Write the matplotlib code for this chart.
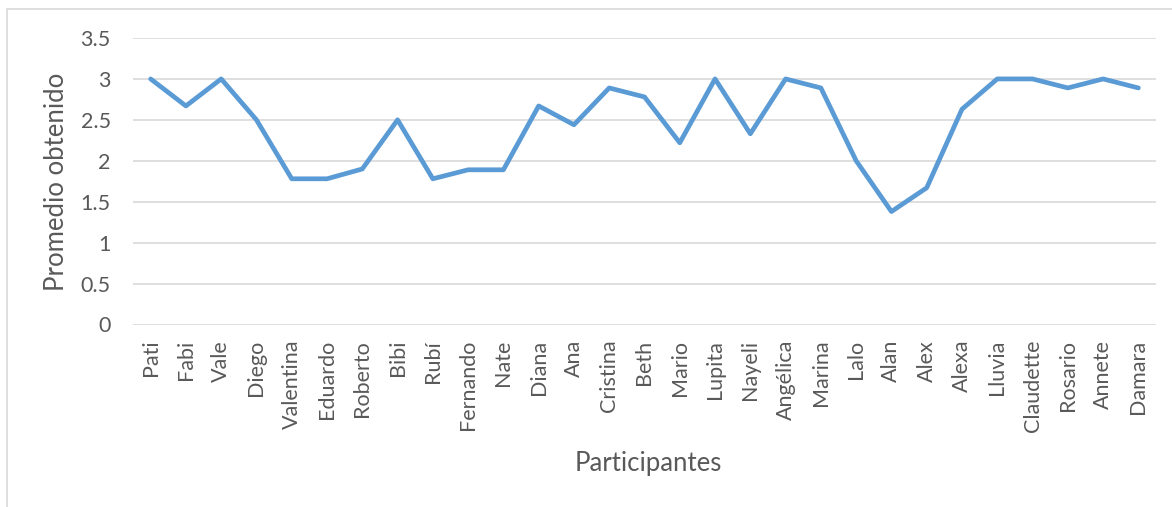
import matplotlib
matplotlib.use("Agg")
import matplotlib.pyplot as plt
from matplotlib.patches import Rectangle

participantes = ["Pati", "Fabi", "Vale", "Diego", "Valentina", "Eduardo", "Roberto", "Bibi",
                 "Rubí", "Fernando", "Nate", "Diana", "Ana", "Cristina", "Beth", "Mario",
                 "Lupita", "Nayeli", "Angélica", "Marina", "Lalo", "Alan", "Alex", "Alexa",
                 "Lluvia", "Claudette", "Rosario", "Annete", "Damara"]
promedio = [3.0, 2.67, 3.0, 2.5, 1.78, 1.78, 1.9, 2.5,
            1.78, 1.89, 1.89, 2.67, 2.44, 2.89, 2.78, 2.22,
            3.0, 2.33, 3.0, 2.89, 2.0, 1.38, 1.67, 2.63,
            3.0, 3.0, 2.89, 3.0, 2.89]
yticks = [0, 0.5, 1, 1.5, 2, 2.5, 3, 3.5]
ytick_labels = ["0", "0.5", "1", "1.5", "2", "2.5", "3", "3.5"]

plt.rcParams['font.family'] = ['Lato', 'DejaVu Sans']
text_color = "#595959"

fig = plt.figure(figsize=(11.72, 5.07), dpi=100)
ax = fig.add_axes([133/1172, 1 - 324.5/507, (1156-133)/1172, (324.5-38)/507])

x = list(range(len(participantes)))
ax.plot(x, promedio, color="#5B9BD5", linewidth=3.4,
        solid_joinstyle='round', solid_capstyle='round', zorder=3)

ax.set_xlim(-0.5, len(participantes) - 0.5)
ax.set_ylim(0, 3.5)
ax.set_yticks(yticks)
ax.set_yticklabels(ytick_labels)
ax.set_xticks(x)
ax.set_xticklabels(participantes, rotation=90, va='top', ha='center')
ax.tick_params(axis='both', length=0, labelsize=15.5, colors=text_color)
ax.tick_params(axis='y', pad=16)
ax.tick_params(axis='x', pad=11)
ax.grid(axis='y', color="#D9D9D9", linewidth=1.2)
ax.set_axisbelow(True)
for s in ax.spines.values():
    s.set_visible(False)

fig.text(57/1172, 1 - 182/507, "Promedio obtenido", rotation=90, ha='center', va='center',
         fontsize=18.5, color=text_color)
fig.text(648/1172, 1 - 464/507, "Participantes", ha='center', va='center',
         fontsize=18.5, color=text_color)

fig.patches.append(Rectangle((6.5/1172, -0.1), 1.2, 1 - 8.5/507 + 0.1, transform=fig.transFigure,
                             fill=False, edgecolor="#D9D9D9", linewidth=1.2))

fig.savefig("out.png", dpi=100)
